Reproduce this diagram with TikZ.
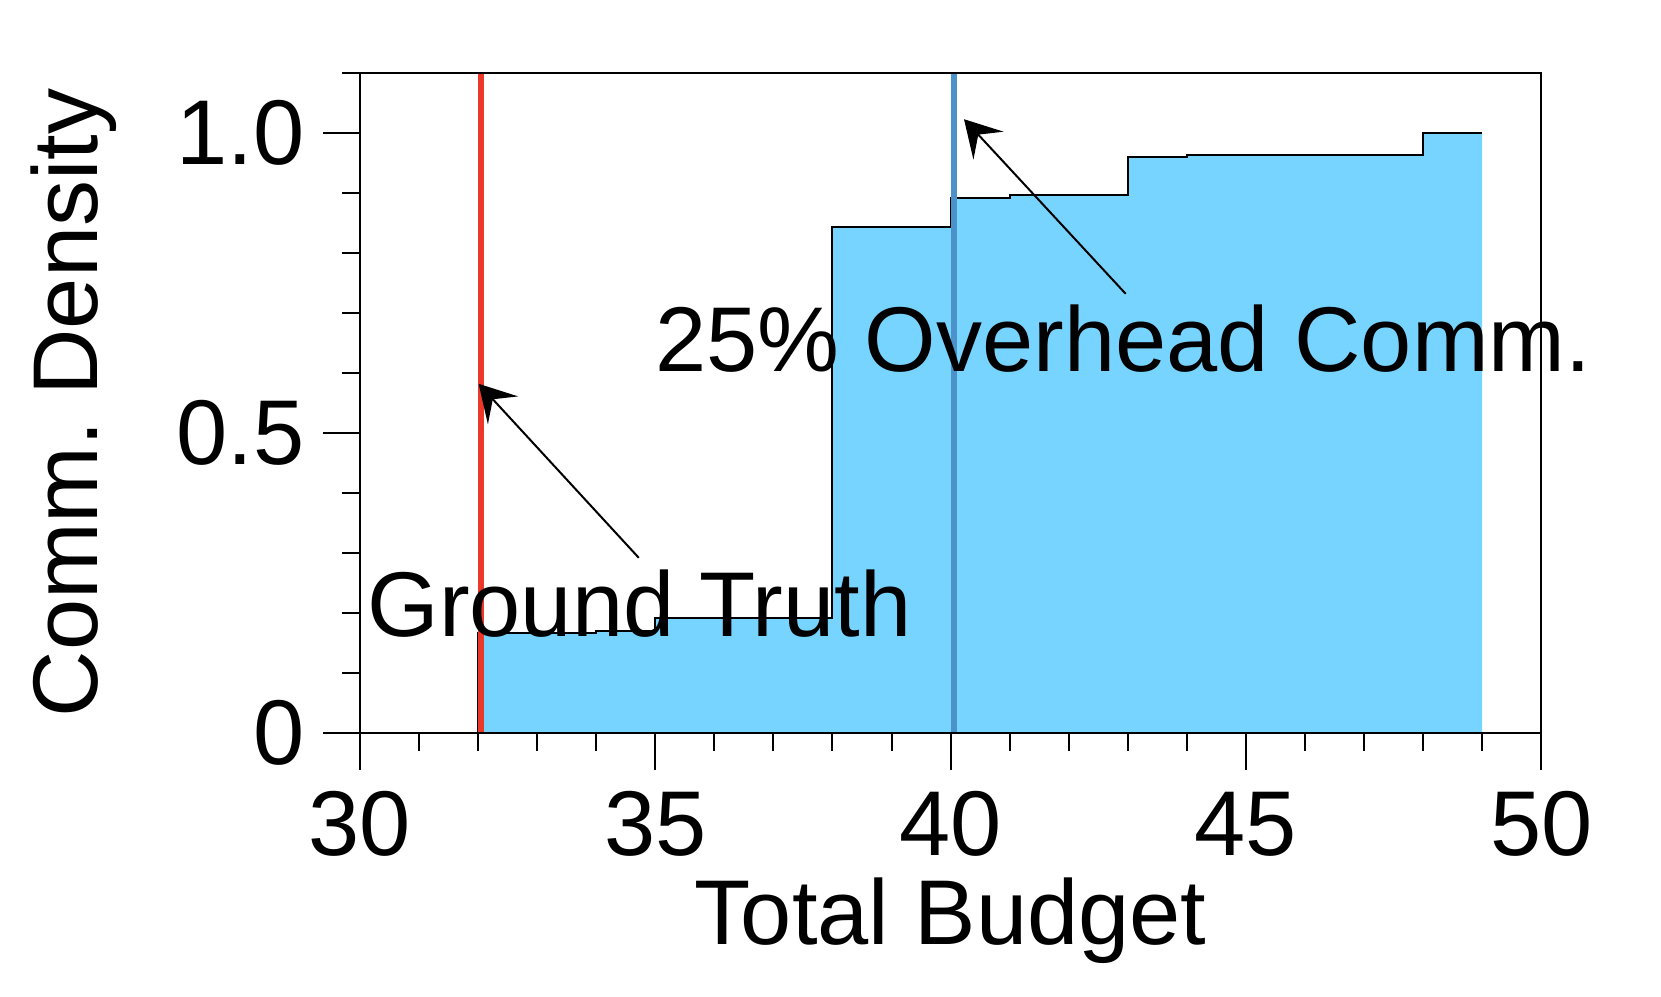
\documentclass[tikz,border=0pt]{standalone}
\usepackage{fontspec}
\setmainfont{Liberation Sans}
\usetikzlibrary{arrows.meta}
\definecolor{histfill}{RGB}{119,212,255}
\definecolor{truthred}{RGB}{236,56,40}
\definecolor{overblue}{RGB}{74,146,201}
\tikzset{%
  frame/.style    = {draw, line width=1.2pt},
  tick/.style     = {draw, line width=1pt},
  hist/.style     = {fill=histfill, draw=none}, % area under the steps
  histline/.style = {draw, line width=1pt},     % step outline
  marker/.style   = {line width=3pt},
  callout/.style  = {line width=1pt, -{Stealth[length=18pt, width=20.5pt, inset=7.5pt]}},
  txt/.style      = {inner sep=0pt, font=\fontsize{46pt}{55pt}\selectfont}
}

\begin{document}
\begin{tikzpicture}[x=29.53pt, y=300pt, shift={(-30,0)}]
\useasboundingbox (23.904,-0.44) rectangle (52.029,1.2217);
% histogram
\fill[hist] (32,0) -- (32,0.167) -- (34,0.167) -- (34,0.17) -- (35,0.17) -- (35,0.192)
	-- (38,0.192) -- (38,0.843) -- (40,0.843) -- (40,0.891) -- (41,0.891) -- (41,0.896)
	-- (43,0.896) -- (43,0.96) -- (44,0.96) -- (44,0.963) -- (48,0.963) -- (48,1)
	-- (49,1) -- (49,0) -- cycle;
\draw[histline] (32,0) -- (32,0.167) -- (34,0.167) -- (34,0.17) -- (35,0.17) -- (35,0.192)
	-- (38,0.192) -- (38,0.843) -- (40,0.843) -- (40,0.891) -- (41,0.891) -- (41,0.896)
	-- (43,0.896) -- (43,0.96) -- (44,0.96) -- (44,0.963) -- (48,0.963) -- (48,1)
	-- (49,1);
% markers
\draw[marker, truthred] (32.05,0) -- (32.05,1.1);
\draw[marker, overblue] (40.06,0) -- (40.06,1.1);
% frame and ticks
\draw[frame] (30,0) rectangle (50,1.1);
\foreach \i in {1,...,11}
	\draw[tick] (30,\i/10) -- ++(-0.305,0);
\foreach \v in {0,0.5,1}
	\draw[tick] (30,\v) -- ++(-0.6265,0);
\foreach \i in {31,...,49}
	\draw[tick] (\i,0) -- ++(0,-0.0308);
\foreach \i in {30,35,...,50}
	\draw[tick] (\i,0) -- ++(0,-0.0617);
% tick labels
\foreach \v/\t [count=\n] in {0/0, 0.5/0.5, 1/1.0}
	\node[txt, anchor=base east] (ylab\n) at (29.07,\v-0.0525) {\t};
\foreach \i in {30,35,...,50}
	\node[txt, anchor=base] (xlab\i) at (\i,-0.205) {\i};
\node[txt, anchor=base] (xtitle) at (40,-0.3517) {Total Budget};
\node[txt, anchor=base, rotate=90] (ytitle) at (25.547,0.55) {Comm.\ Density};
% callouts
\coordinate (truthtail) at (34.72,0.292);
\coordinate (truthtip) at (32.008,0.582);
\coordinate (overtail) at (42.965,0.732);
\coordinate (overtip) at (40.227,1.023);
\draw[callout] (truthtail) -- (truthtip);
\draw[callout] (overtail) -- (overtip);
\node[txt, anchor=base west] (truth) at (30.12,0.16) {Ground Truth};
\node[txt, anchor=base west] (overhead) at (34.995,0.6017) {25\% Overhead Comm.};
\end{tikzpicture}
\end{document}
